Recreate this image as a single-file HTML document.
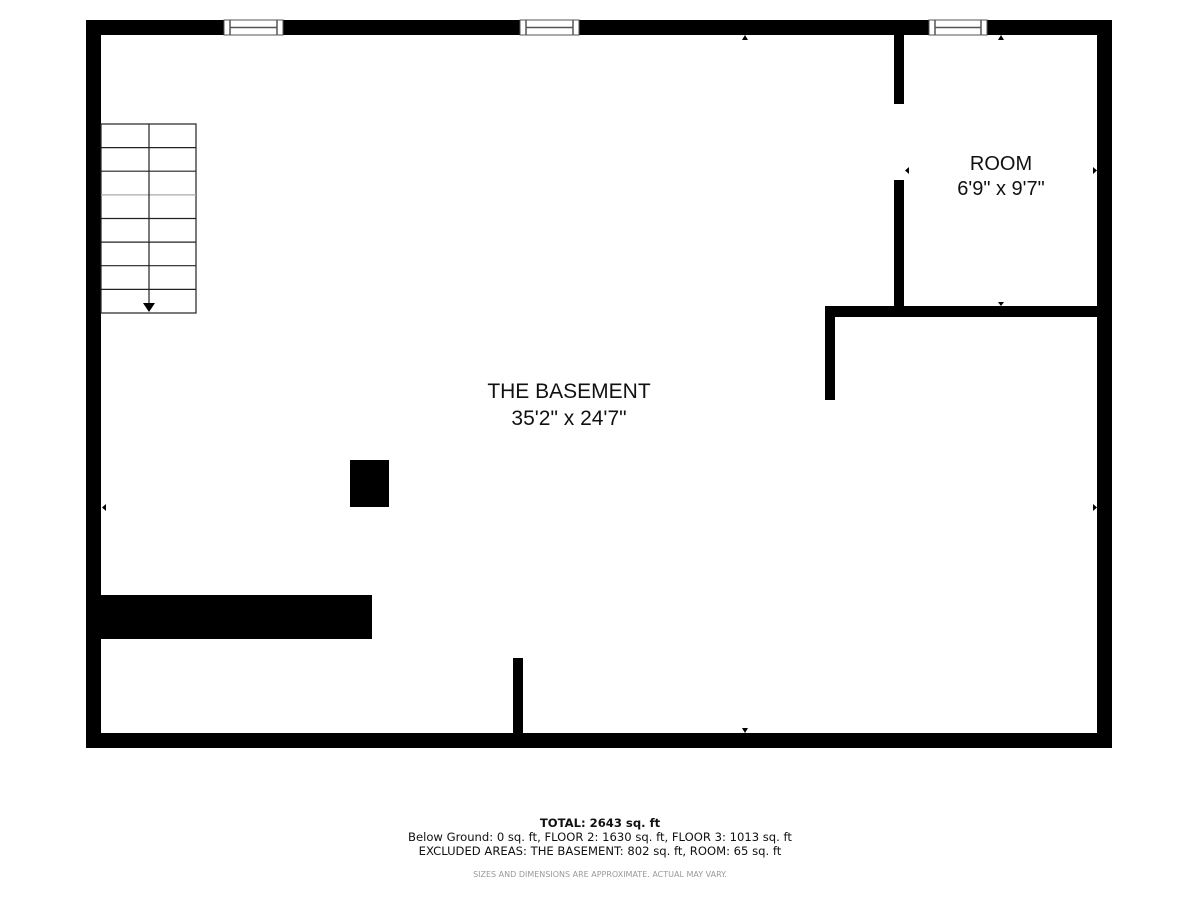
<!DOCTYPE html>
<html><head><style>
html,body{margin:0;padding:0;background:#fff;width:1200px;height:900px;overflow:hidden}
</style></head><body>
<svg width="1200" height="900" viewBox="0 0 1200 900" xmlns="http://www.w3.org/2000/svg" font-family="Liberation Sans, sans-serif">
<rect width="1200" height="900" fill="#fff"/>
<rect x="86" y="20" width="1026" height="15" fill="#000"/>
<rect x="86" y="733" width="1026" height="15" fill="#000"/>
<rect x="86" y="20" width="15" height="728" fill="#000"/>
<rect x="1097" y="20" width="15" height="728" fill="#000"/>
<g fill="#fff" stroke="#555" stroke-width="1">
<rect x="224" y="20" width="59" height="15"/>
<rect x="520" y="20" width="59" height="15"/>
<rect x="929" y="20" width="58" height="15"/>
</g>
<g stroke="#555" stroke-width="1.5">
<line x1="230" y1="27.5" x2="277" y2="27.5"/><line x1="230" y1="20" x2="230" y2="35"/><line x1="277" y1="20" x2="277" y2="35"/>
<line x1="526" y1="27.5" x2="573" y2="27.5"/><line x1="526" y1="20" x2="526" y2="35"/><line x1="573" y1="20" x2="573" y2="35"/>
<line x1="935" y1="27.5" x2="981" y2="27.5"/><line x1="935" y1="20" x2="935" y2="35"/><line x1="981" y1="20" x2="981" y2="35"/>
</g>
<rect x="894" y="35" width="10" height="69" fill="#000"/>
<rect x="894" y="180" width="10" height="130" fill="#000"/>
<rect x="825" y="306" width="280" height="11" fill="#000"/>
<rect x="825" y="306" width="10" height="94" fill="#000"/>
<rect x="350" y="460" width="39" height="47" fill="#000"/>
<rect x="86" y="595" width="286" height="44" fill="#000"/>
<rect x="513" y="658" width="10" height="90" fill="#000"/>
<g stroke="#222" stroke-width="1.2" fill="none">
<rect x="101" y="124" width="95" height="189"/>
<line x1="101" y1="147.6" x2="196" y2="147.6"/>
<line x1="101" y1="171.2" x2="196" y2="171.2"/>
<line x1="101" y1="194.9" x2="196" y2="194.9" stroke="#aaa"/>
<line x1="101" y1="218.5" x2="196" y2="218.5"/>
<line x1="101" y1="242.1" x2="196" y2="242.1"/>
<line x1="101" y1="265.7" x2="196" y2="265.7"/>
<line x1="101" y1="289.4" x2="196" y2="289.4"/>
<line x1="149" y1="124" x2="149" y2="305"/>
</g>
<polygon points="143,303 155,303 149,312" fill="#000"/>
<g fill="#000">
<polygon points="742,40 748,40 745,35"/>
<polygon points="742,728 748,728 745,733"/>
<polygon points="106,504 106,511 102,507.5"/>
<polygon points="1093,504 1093,511 1097,507.5"/>
<polygon points="998,40 1004,40 1001,35"/>
<polygon points="998,302 1004,302 1001,306"/>
<polygon points="909,167 909,174 905,170.5"/>
<polygon points="1093,167 1093,174 1097,170.5"/>
</g>
<g fill="#111" font-size="21" text-anchor="middle">
<text x="569" y="398">THE BASEMENT</text>
<text x="569" y="425">35'2" x 24'7"</text>
<text x="1001" y="170" font-size="20">ROOM</text>
<text x="1001" y="195" font-size="20">6'9" x 9'7"</text>
</g>
<g fill="#111" text-anchor="middle" font-family="DejaVu Sans, sans-serif">
<text x="600" y="827" font-size="11.6" font-weight="bold">TOTAL: 2643 sq. ft</text>
<text x="600" y="841" font-size="11.6">Below Ground: 0 sq. ft, FLOOR 2: 1630 sq. ft, FLOOR 3: 1013 sq. ft</text>
<text x="600" y="855" font-size="11.6">EXCLUDED AREAS: THE BASEMENT: 802 sq. ft, ROOM: 65 sq. ft</text>
<text x="600" y="877" font-size="8" fill="#999">SIZES AND DIMENSIONS ARE APPROXIMATE. ACTUAL MAY VARY.</text>
</g>
</svg>
</body></html>
